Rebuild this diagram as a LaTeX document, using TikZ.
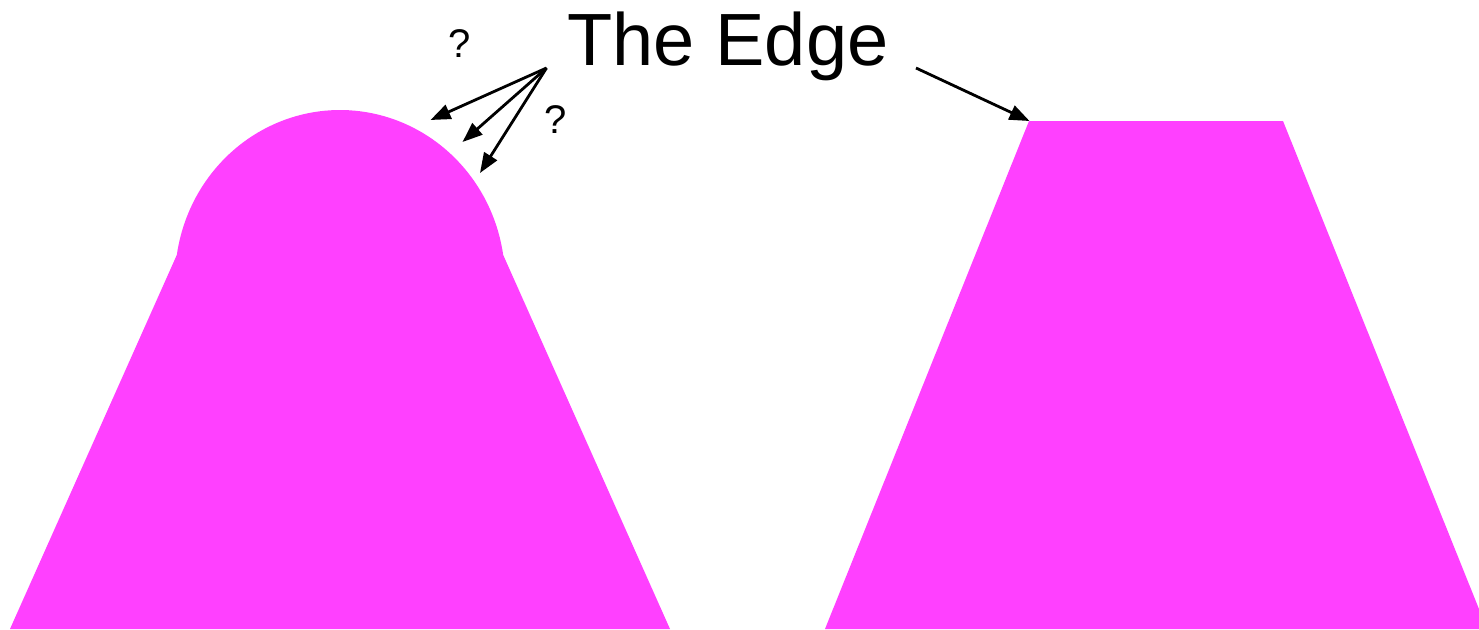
\documentclass[tikz,border=0pt]{standalone}
\usepackage{fontspec}
\setmainfont{Liberation Sans}
\usetikzlibrary{arrows.meta}
\definecolor{shapepink}{RGB}{255,64,255}
\tikzset{
  shapefill/.style={fill=shapepink},
  pointer/.style={line width=2.8pt,-{Triangle[length=20pt,width=15pt]}},
  bigtext/.style={font=\fontsize{74}{80}\selectfont,inner sep=0pt},
  qtext/.style={font=\fontsize{40}{44}\selectfont,inner sep=0pt}
}
\begin{document}
\begin{tikzpicture}[x=1pt,y=-1pt]
\clip (0,0) rectangle (1479,629);
\fill[white] (0,0) rectangle (1479,629);
% left shape with dome
\fill[shapefill] (10,629) -- (176.8,255)
  -- plot[domain=171.54:8.46,samples=80] ({340+165*cos(\x)},{280-170*sin(\x)})
  -- (670,629) -- cycle;
% right trapezoid
\fill[shapefill] (825,629) -- (1029,121) -- (1283,121) -- (1487,629) -- cycle;
% labels
\node[bigtext,anchor=base] (edge) at (728,65) {The Edge};
\node[qtext,anchor=base] (q1) at (460,57) {?};
\node[qtext,anchor=base] (q2) at (556,133) {?};
% arrow sources and tips
\coordinate (src) at (546.5,68);
\coordinate (t1) at (430.5,120);
\coordinate (t2) at (462.5,142);
\coordinate (t3) at (480,173);
\coordinate (src2) at (916,68);
\coordinate (t4) at (1029.5,121);
\draw[pointer] (src) -- (t1);
\draw[pointer] (src) -- (t2);
\draw[pointer] (src) -- (t3);
\draw[pointer] (src2) -- (t4);
\end{tikzpicture}
\end{document}
